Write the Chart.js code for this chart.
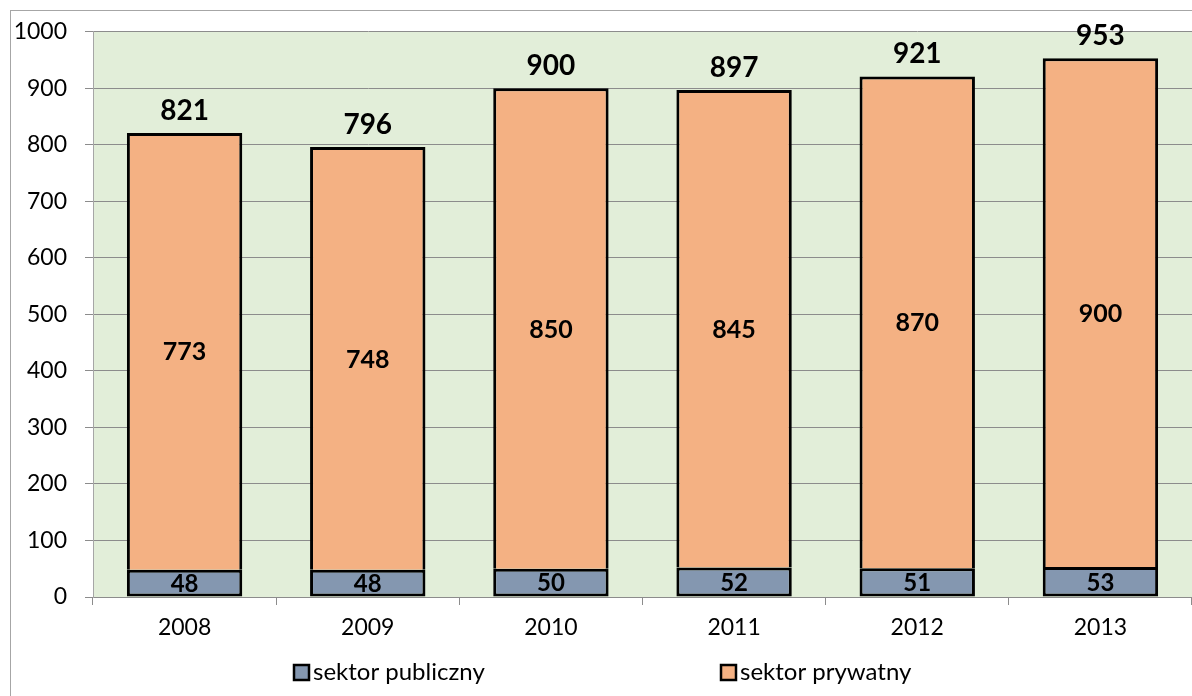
<!DOCTYPE html>
<html>
<head>
<meta charset="utf-8">
<script src="https://cdn.jsdelivr.net/npm/chart.js@4"></script>
<style>
  body { margin: 0; background: #fff; }
  #wrap { width: 1192px; height: 696px; }
</style>
</head>
<body>
<div id="wrap"><canvas id="bar-chart" width="1192" height="696"></canvas></div>
<script>
// dane z wykresu
var years = ["2008", "2009", "2010", "2011", "2012", "2013"];
var publiczny = [48, 48, 50, 52, 51, 53];
var prywatny = [773, 748, 850, 845, 870, 900];
var yTicks = [0, 100, 200, 300, 400, 500, 600, 700, 800, 900, 1000];

var FONT = "Lato, 'Liberation Sans', sans-serif";

var tlo = {
  id: 'tlo',
  beforeDraw: function (chart) {
    var ctx = chart.ctx, a = chart.chartArea;
    ctx.save();
    ctx.fillStyle = '#fff';
    ctx.fillRect(0, 0, chart.width, chart.height);
    ctx.strokeStyle = '#a6a6a6';
    ctx.lineWidth = 1;
    ctx.strokeRect(10.5, 10.5, 1300, 800);
    ctx.fillStyle = '#e2eed9';
    ctx.fillRect(a.left, a.top, a.right - a.left, a.bottom - a.top);
    ctx.restore();
  }
};

var etykiety = {
  id: 'etykiety',
  afterDatasetsDraw: function (chart) {
    var ctx = chart.ctx;
    ctx.save();
    ctx.fillStyle = '#000';
    ctx.textAlign = 'center';
    ctx.textBaseline = 'middle';
    chart.data.datasets.forEach(function (ds, i) {
      var meta = chart.getDatasetMeta(i);
      ctx.font = (i === 0 ? 'bold 24px ' : 'bold 25px ') + FONT;
      meta.data.forEach(function (bar, j) {
        ctx.fillText(ds.data[j], bar.x, (bar.y + bar.base) / 2 + 1);
      });
    });
    // sumy nad slupkami
    var top = chart.getDatasetMeta(1);
    ctx.font = 'bold 28px ' + FONT;
    top.data.forEach(function (bar, j) {
      ctx.fillText(publiczny[j] + prywatny[j], bar.x, bar.y - 22);
    });
    ctx.restore();
  }
};

var legenda = {
  id: 'legenda',
  afterDraw: function (chart) {
    var ctx = chart.ctx;
    var xs = [294, 721];
    ctx.save();
    chart.data.datasets.forEach(function (ds, i) {
      ctx.fillStyle = ds.backgroundColor;
      ctx.fillRect(xs[i], 665, 15, 15);
      ctx.strokeStyle = '#000';
      ctx.lineWidth = 2.5;
      ctx.strokeRect(xs[i], 665, 15, 15);
      ctx.fillStyle = '#000';
      ctx.font = '24px ' + FONT;
      ctx.textAlign = 'left';
      ctx.textBaseline = 'middle';
      ctx.fillText(ds.label, xs[i] + 19, 672);
    });
    ctx.restore();
  }
};

new Chart(document.getElementById("bar-chart"), {
  type: 'bar',
  data: {
    labels: years,
    datasets: [
      {
        label: "sektor publiczny",
        backgroundColor: "#8497b0",
        borderColor: "#000",
        borderWidth: 3,
        borderSkipped: false,
        data: publiczny
      },
      {
        label: "sektor prywatny",
        backgroundColor: "#f4b183",
        borderColor: "#000",
        borderWidth: 3,
        borderSkipped: 'bottom',
        data: prywatny
      }
    ]
  },
  options: {
    responsive: false,
    animation: false,
    barPercentage: 0.63,
    categoryPercentage: 1,
    layout: { padding: { top: 31, right: 0, left: 0, bottom: 0 } },
    plugins: {
      legend: { display: false },
      tooltip: { enabled: false }
    },
    scales: {
      x: {
        stacked: true,
        grid: { offset: true, drawOnChartArea: false, color: '#8c8c8c', tickLength: 8 },
        border: { color: '#8c8c8c' },
        ticks: { color: '#000', font: { family: FONT, size: 23 }, padding: 9 },
        afterFit: function (s) { s.height = 99; }
      },
      y: {
        stacked: true,
        min: 0,
        max: 1000,
        afterBuildTicks: function (s) { s.ticks = yTicks.map(function (v) { return { value: v }; }); },
        grid: { color: '#8c8c8c', tickLength: 8 },
        border: { color: '#a6a6a6' },
        ticks: {
          color: '#000', font: { family: FONT, size: 23 }, padding: 18,
          callback: function (v) { return String(v); }
        },
        afterFit: function (s) { s.width = 93; }
      }
    }
  },
  plugins: [tlo, etykiety, legenda]
});
</script>
</body>
</html>
